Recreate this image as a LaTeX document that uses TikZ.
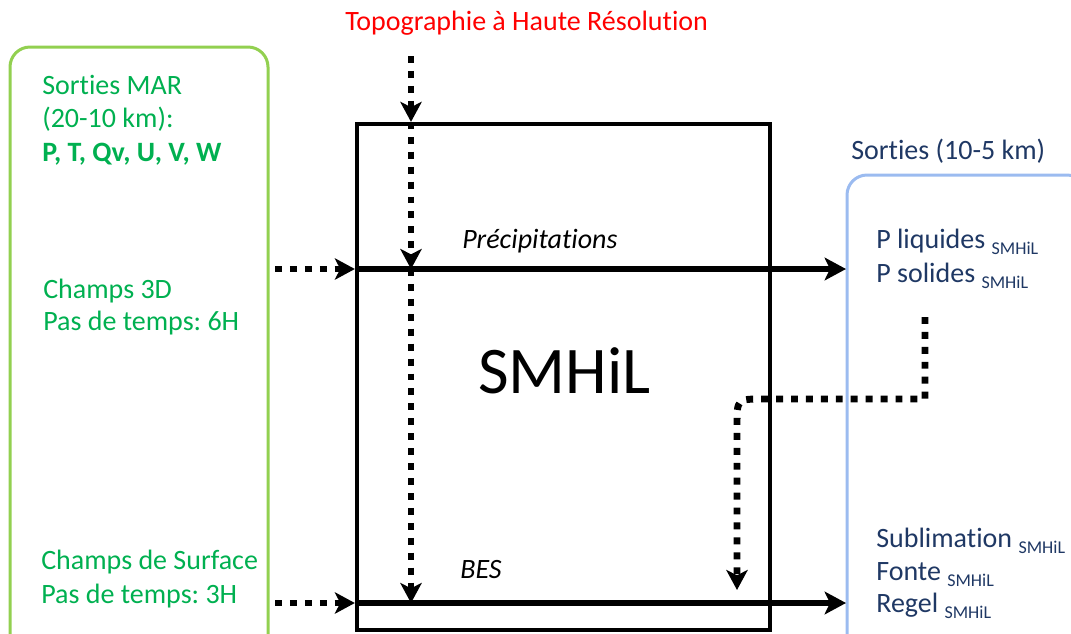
\documentclass[tikz,border=0pt]{standalone}
\usepackage{fontspec}
\setmainfont{Carlito}[Ligatures={NoCommon}]
\usetikzlibrary{arrows.meta,positioning}
\definecolor{vertTexte}{RGB}{0,176,80}
\definecolor{vertCadre}{RGB}{146,208,80}
\definecolor{bleuCadre}{RGB}{155,187,240}
\definecolor{bleuTexte}{RGB}{31,56,100}
\newcommand{\indice}{\raisebox{-5pt}{\fontsize{13.5}{16}\selectfont SMHiL}}
\frenchspacing

\begin{document}
\begin{tikzpicture}[
  x=0.75pt, y=-0.75pt,
  texte/.style={anchor=base west, inner sep=0pt, font=\fontsize{21}{25}\selectfont},
  vert/.style={texte, text=vertTexte},
  bleu/.style={texte, text=bleuTexte},
  cadreMAR/.style={rectangle, rounded corners=15pt, draw=vertCadre, line width=2.25pt,
                   minimum width=193.5pt, minimum height=459.75pt},
  cadreSortie/.style={rectangle, rounded corners=15pt, draw=bleuCadre, line width=2.25pt,
                      minimum width=180pt, minimum height=363.75pt},
  cadreModele/.style={rectangle, draw=black, line width=3.2pt,
                      minimum width=309.75pt, minimum height=379.5pt},
  fleche/.style={-{Stealth[length=16pt, width=17pt, inset=4pt]}, line width=4.5pt},
  pointille/.style={-{Stealth[length=15pt, width=16pt, inset=4pt]}, line width=5.2pt,
                    dash pattern=on 5.2pt off 6pt}
]
\useasboundingbox (0,0) rectangle (1071,633);
\clip (0,0) rectangle (1071,633);

% cadres
\node[cadreMAR]    (mar)    at (139,353.5) {};
\node[cadreSortie] (sortie) at (967,417.5) {};
\node[cadreModele] (modele) at (563.5,377) {};

% textes
\node[texte, text=red] (topo) at (345,30) {Topographie à Haute Résolution};
\node[vert] (mar1) at (42,94)  {Sorties MAR};
\node[vert] (mar2) at (42,127) {(20-10 km):};
\node[vert, font=\fontsize{21}{25}\selectfont\bfseries] (mar3) at (42,161) {P, T, Qv, U, V, W};
\node[vert] (champs1) at (43,298) {Champs 3D};
\node[vert] (champs2) at (43,330) {Pas de temps: 6H};
\node[vert] (surf1) at (41,569) {Champs de Surface};
\node[vert] (surf2) at (41,603) {Pas de temps: 3H};
\node[bleu] (titreSortie) at (851,159) {Sorties (10-5 km)};
\node[bleu] (pliq)  at (876,248) {P liquides \indice};
\node[bleu] (psol)  at (876,282) {P solides \indice};
\node[bleu] (subl)  at (876,547) {Sublimation \indice};
\node[bleu] (fonte) at (876,580) {Fonte \indice};
\node[bleu] (regel) at (876,612) {Regel \indice};
\node[texte, font=\fontsize{21}{25}\selectfont\itshape] (precip) at (462,248) {Précipitations};
\node[texte, font=\fontsize{21}{25}\selectfont\itshape] (bes) at (460,578) {BES};
\node[texte, font=\fontsize{50}{60}\selectfont] (nom) at (478,393) {SMHiL};

% points d'appui
\coordinate (topoDepart) at (411,56);
\coordinate (pluieG) at (275,269);
\coordinate (pluieD) at (846,269);
\coordinate (besG) at (275,603);
\coordinate (besD) at (846,603);
\coordinate (retourDepart) at (925,317);
\coordinate (retourFin) at (737,590);

% fleches pleines
\draw[fleche] (pluieG -| modele.west) -- (pluieD);
\draw[fleche] (besG -| modele.west) -- (besD);

% fleches pointillees
\draw[pointille] (pluieG) -- (pluieG -| modele.west);
\draw[pointille] (besG) -- (besG -| modele.west);
\draw[pointille] (topoDepart) -- (topoDepart |- modele.north);
\draw[pointille] (topoDepart |- modele.north) -- (topoDepart |- pluieG);
\draw[pointille] (topoDepart |- pluieG) -- (topoDepart |- besG);
\draw[pointille] (retourDepart) -- (925,399) -- (763,399)
  .. controls (737,399) .. (737,425) -- (retourFin);
\end{tikzpicture}
\end{document}
